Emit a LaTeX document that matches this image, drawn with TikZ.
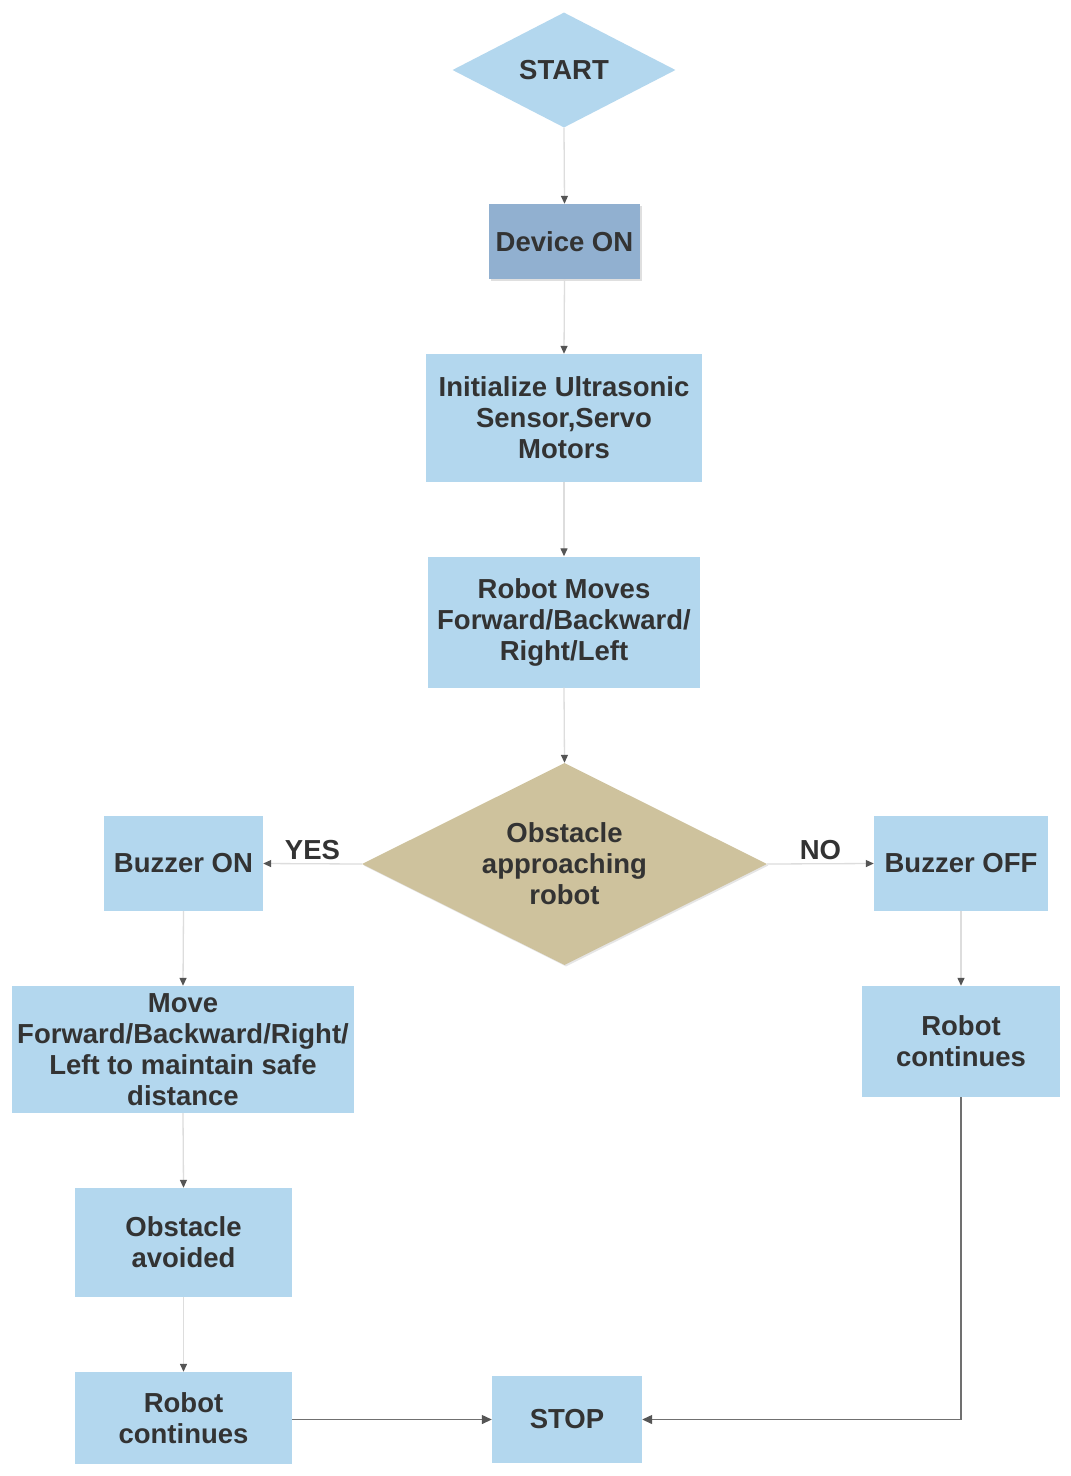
\documentclass[tikz,border=0pt]{standalone}
\usepackage{fontspec}
\setmainfont{Liberation Sans}
\usetikzlibrary{shapes.geometric,arrows.meta,shadows}
\definecolor{boxblue}{HTML}{B3D7EE}
\definecolor{devblue}{HTML}{91B0D0}
\definecolor{decis}{HTML}{CEC29D}
\definecolor{txt}{HTML}{333333}
\definecolor{lightline}{HTML}{DDDDDD}
\definecolor{darkline}{HTML}{707070}
\definecolor{tipcol}{HTML}{555555}
\tikzset{
  every node/.style={font=\fontsize{27.5}{31}\selectfont\bfseries, text=txt},
  box/.style={rectangle, fill=boxblue, draw=none, inner sep=0pt, align=center},
  dia/.style={diamond, fill=decis, draw=none, inner sep=0pt, align=center, aspect=2},
  conn/.style={draw=lightline, line width=1.3pt, -{Triangle[length=8pt,width=7pt,fill=tipcol,color=tipcol]}},
  darkconn/.style={draw=darkline, line width=1.3pt, -{Triangle[length=10pt,width=9pt,fill=tipcol,color=tipcol]}},
  lbl/.style={font=\fontsize{27.5}{31}\selectfont\bfseries, text=txt}
}
\begin{document}
\begin{tikzpicture}[x=1pt,y=-1pt]
\useasboundingbox (0,0) rectangle (1071,1476);
\fill[white] (0,0) rectangle (1071,1476);

\node[dia, fill=boxblue, aspect=1.94, minimum width=223pt, minimum height=115pt] (start) at (564,70) {START};
\node[box, fill=devblue, minimum width=151pt, minimum height=75pt, drop shadow={opacity=0.25, shadow xshift=1.5pt, shadow yshift=-1.5pt}] (dev) at (564.5,241.5) {Device ON};
\node[box, minimum width=276pt, minimum height=128pt] (init) at (564,418) {Initialize Ultrasonic\\Sensor,Servo\\Motors};
\node[box, minimum width=272pt, minimum height=131pt] (moves) at (564,622) {Robot Moves\\Forward/Backward/\\Right/Left};
\node[dia, minimum width=405pt, minimum height=202pt, drop shadow={opacity=0.2, shadow xshift=1.5pt, shadow yshift=-1.5pt}] (obst) at (564.5,864) {Obstacle\\approaching\\robot};
\node[box, minimum width=159pt, minimum height=95pt] (bon) at (183.5,863.5) {Buzzer ON};
\node[box, minimum width=174pt, minimum height=95pt] (boff) at (961,863.5) {Buzzer OFF};
\node[box, minimum width=342pt, minimum height=127pt] (move) at (183,1049.5) {Move\\Forward/Backward/Right/\\Left to maintain safe\\distance};
\node[box, minimum width=217pt, minimum height=109pt] (avoid) at (183.5,1242.5) {Obstacle\\avoided};
\node[box, minimum width=217pt, minimum height=92pt] (rcl) at (183.5,1418) {Robot\\continues};
\node[box, minimum width=150pt, minimum height=87pt] (stop) at (567,1419.5) {STOP};
\node[box, minimum width=198pt, minimum height=111pt] (rcr) at (961,1041.5) {Robot\\continues};

\draw[conn] (start.south) -- (dev.north);
\draw[conn] (dev.south) -- (init.north);
\draw[conn] (init.south) -- (moves.north);
\draw[conn] (moves.south) -- (obst.north);
\draw[conn] (obst.west) -- node[lbl, above=0pt] {YES} (bon.east);
\draw[conn] (obst.east) -- node[lbl, above=0pt] {NO} (boff.west);
\draw[conn] (bon.south) -- (move.north);
\draw[conn] (move.south) -- (avoid.north);
\draw[conn] (avoid.south) -- (rcl.north);
\draw[conn] (boff.south) -- (rcr.north);
\draw[darkconn] (rcl.east |- stop.west) -- (stop.west);
\draw[darkconn] (rcr.south) |- (stop.east);
\end{tikzpicture}
\end{document}
